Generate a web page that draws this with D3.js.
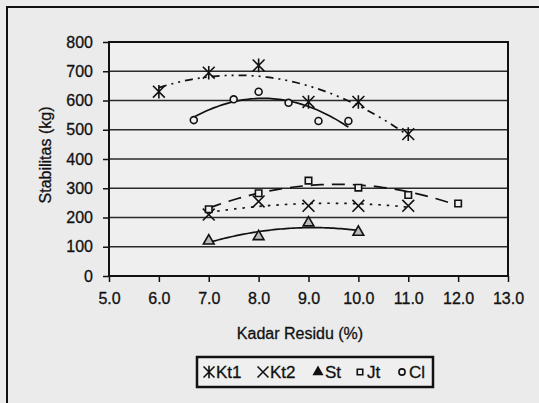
<!DOCTYPE html>
<html lang="en">
<head>
<meta charset="UTF-8" />
<title>Stabilitas</title>
<style>
  body { margin: 0; background: #ebebeb; }
  svg { display: block; font-family: "Liberation Sans", Arial, sans-serif; }
</style>
</head>
<body>
<svg id="svg" width="539" height="403"></svg>
<script src="https://d3js.org/d3.v7.min.js"></script>
<script>
// data
const kt1X = [6, 7, 8, 9, 10, 11];
const kt1Y = [630, 695, 720, 595, 595, 485];
const kt2X = [7, 8, 9, 10, 11];
const kt2Y = [210, 255, 240, 240, 240];
const stX = [7, 8, 9, 10];
const stY = [120, 135, 182, 150];
const jtX = [7, 8, 9, 10, 11, 12];
const jtY = [228, 283, 326, 302, 277, 248];
const clX = [6.7, 7.5, 8.0, 8.6, 9.2, 9.8];
const clY = [533, 604, 630, 592, 530, 530];
const xTicks = [5, 6, 7, 8, 9, 10, 11, 12, 13];
const yTicks = [0, 100, 200, 300, 400, 500, 600, 700, 800];

const plotLeft = 109, plotRight = 508, plotTop = 42, plotBottom = 276;

const svg = d3.select('#svg');

// outer frame
svg.append('rect')
  .attr('x', 7).attr('y', 7).attr('width', 540).attr('height', 400)
  .attr('fill', '#ebebeb').attr('stroke', '#111').attr('stroke-width', 2);

const x = d3.scaleLinear().domain([5, 13]).range([plotLeft, plotRight]);
const y = d3.scaleLinear().domain([0, 800]).range([plotBottom, plotTop]);

svg.append('rect')
  .attr('x', plotLeft).attr('y', plotTop)
  .attr('width', plotRight - plotLeft).attr('height', plotBottom - plotTop)
  .attr('fill', '#efefef');

// gridlines
svg.append('g')
  .selectAll('line')
  .data(yTicks.slice(1))
  .join('line')
  .attr('x1', plotLeft).attr('x2', plotRight)
  .attr('y1', d => y(d)).attr('y2', d => y(d))
  .attr('stroke', '#2a2a2a').attr('stroke-width', 1.5);

// axes
const yAxis = svg.append('g')
  .attr('transform', `translate(${plotLeft},0)`)
  .call(d3.axisLeft(y).tickValues(yTicks).tickSize(6).tickPadding(10));
const xAxis = svg.append('g')
  .attr('transform', `translate(0,${plotBottom})`)
  .call(d3.axisBottom(x).tickValues(xTicks).tickFormat(d3.format('.1f')).tickSize(6).tickPadding(11));
[yAxis, xAxis].forEach(a => {
  a.select('.domain').remove();
  a.selectAll('line').attr('stroke', '#111').attr('stroke-width', 1.5);
  a.selectAll('text').attr('font-size', 16).attr('fill', '#111')
    .attr('stroke', '#111').attr('stroke-width', 0.3)
    .attr('font-family', '"Liberation Sans", Arial, sans-serif');
});

svg.append('rect')
  .attr('x', plotLeft).attr('y', plotTop)
  .attr('width', plotRight - plotLeft).attr('height', plotBottom - plotTop)
  .attr('fill', 'none').attr('stroke', '#111').attr('stroke-width', 2);

// titles
svg.append('text')
  .attr('transform', `translate(51,${(plotTop + plotBottom) / 2 - 4}) rotate(-90)`)
  .attr('text-anchor', 'middle').attr('font-size', 16).attr('fill', '#111')
  .attr('stroke', '#111').attr('stroke-width', 0.3)
  .text('Stabilitas (kg)');
svg.append('text')
  .attr('x', 300).attr('y', 339)
  .attr('text-anchor', 'middle').attr('font-size', 16).attr('fill', '#111')
  .attr('stroke', '#111').attr('stroke-width', 0.3)
  .text('Kadar Residu (%)');

// quadratic trendline (least squares) like the spreadsheet's
function quadFit(xs, ys) {
  const s = [0, 0, 0, 0, 0], t = [0, 0, 0];
  xs.forEach((xv, i) => {
    for (let k = 0; k < 5; k++) s[k] += Math.pow(xv, k);
    for (let k = 0; k < 3; k++) t[k] += ys[i] * Math.pow(xv, k);
  });
  const M = [[s[0], s[1], s[2], t[0]], [s[1], s[2], s[3], t[1]], [s[2], s[3], s[4], t[2]]];
  for (let i = 0; i < 3; i++) {
    for (let j = i + 1; j < 3; j++) {
      const f = M[j][i] / M[i][i];
      for (let k = i; k < 4; k++) M[j][k] -= f * M[i][k];
    }
  }
  const c = [0, 0, 0];
  for (let i = 2; i >= 0; i--) {
    let v = M[i][3];
    for (let k = i + 1; k < 3; k++) v -= M[i][k] * c[k];
    c[i] = v / M[i][i];
  }
  return xv => c[0] + c[1] * xv + c[2] * xv * xv;
}

const asterisk = {
  draw(ctx, size) {
    const r = Math.sqrt(size) / 2;
    ctx.moveTo(-r, -r); ctx.lineTo(r, r);
    ctx.moveTo(r, -r); ctx.lineTo(-r, r);
    ctx.moveTo(0, -r * 1.15); ctx.lineTo(0, r * 1.15);
  }
};
const cross = {
  draw(ctx, size) {
    const r = Math.sqrt(size) / 2;
    ctx.moveTo(-r, -r); ctx.lineTo(r, r);
    ctx.moveTo(r, -r); ctx.lineTo(-r, r);
  }
};

const series = [
  { name: 'Kt1', xs: kt1X, ys: kt1Y, sym: asterisk, size: 140, fill: 'none', dash: '8,5,2,5,2,5' },
  { name: 'Kt2', xs: kt2X, ys: kt2Y, sym: cross, size: 140, fill: 'none', dash: '2.5,6' },
  { name: 'St', xs: stX, ys: stY, sym: d3.symbolTriangle, size: 50, fill: '#bbb', dash: null },
  { name: 'Jt', xs: jtX, ys: jtY, sym: d3.symbolSquare, size: 42, fill: '#efefef', dash: '13,8' },
  { name: 'Cl', xs: clX, ys: clY, sym: d3.symbolCircle, size: 38, fill: '#efefef', dash: null }
];

const line = d3.line().x(d => x(d[0])).y(d => y(d[1]));

series.forEach(s => {
  const f = quadFit(s.xs, s.ys);
  const x0 = d3.min(s.xs), x1 = d3.max(s.xs);
  const pts = d3.range(0, 61).map(i => {
    const xv = x0 + (x1 - x0) * i / 60;
    return [xv, f(xv)];
  });
  svg.append('path')
    .attr('d', line(pts))
    .attr('fill', 'none').attr('stroke', '#111').attr('stroke-width', 1.7)
    .attr('stroke-dasharray', s.dash);
});

series.forEach(s => {
  svg.append('g')
    .selectAll('path')
    .data(s.xs.map((xv, i) => [xv, s.ys[i]]))
    .join('path')
    .attr('transform', d => `translate(${x(d[0])},${y(d[1])})`)
    .attr('d', d3.symbol().type(s.sym).size(s.size))
    .attr('fill', s.fill).attr('stroke', '#111').attr('stroke-width', 1.6);
});

// legend
const legend = svg.append('g');
legend.append('rect')
  .attr('x', 197).attr('y', 357).attr('width', 236).attr('height', 30)
  .attr('fill', '#efefef').attr('stroke', '#111').attr('stroke-width', 2.5);
const legendPos = [209, 263, 318, 360, 402];
series.forEach((s, i) => {
  const lx = legendPos[i];
  const big = s.name === 'Kt1' || s.name === 'Kt2';
  legend.append('path')
    .attr('transform', `translate(${lx},372)`)
    .attr('d', d3.symbol().type(s.sym).size(big ? 120 : 30))
    .attr('fill', s.name === 'St' ? '#111' : (big ? 'none' : '#efefef'))
    .attr('stroke', '#111').attr('stroke-width', 1.6);
  legend.append('text')
    .attr('x', lx + (big ? 7 : 7)).attr('y', 378)
    .attr('font-size', 17).attr('fill', '#111')
    .attr('stroke', '#111').attr('stroke-width', 0.3)
    .text(s.name);
});
</script>
</body>
</html>
